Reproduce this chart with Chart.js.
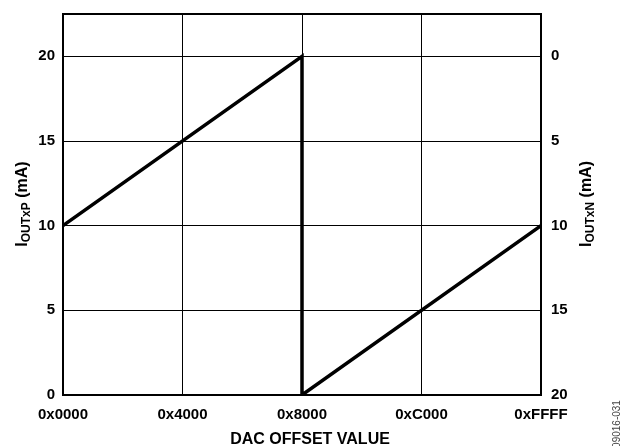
<!DOCTYPE html>
<html>
<head>
<meta charset="utf-8">
<script src="https://cdn.jsdelivr.net/npm/chart.js@4"></script>
<style>
  html, body { margin: 0; padding: 0; background: #fff; }
  #wrap { width: 623px; height: 446px; position: relative; }
</style>
</head>
<body>
<div id="wrap"><canvas id="chart" width="623" height="446"></canvas></div>
<script>
// DAC offset code vs output current
const dacCodes = [0x0000, 0x8000, 0x8000, 0xFFFF];
const ioutP = [10, 20, 0, 10];

const xTickValues = [0x0000, 0x4000, 0x8000, 0xC000, 0xFFFF];
const xTickLabels = ['0x0000', '0x4000', '0x8000', '0xC000', '0xFFFF'];
const leftTicks = [0, 5, 10, 15, 20];
const rightTicks = [0, 5, 10, 15, 20];

const FONT = 'Liberation Sans, Arial, Helvetica, sans-serif';

const points = dacCodes.map((x, i) => ({ x: x, y: ioutP[i] }));

// border around plot + axis titles with subscripts
const decorPlugin = {
  id: 'decor',
  beforeDatasetsDraw(chart) {
    const ctx = chart.ctx, a = chart.chartArea;
    ctx.save();
    ctx.strokeStyle = '#000';
    ctx.lineWidth = 2;
    ctx.strokeRect(a.left, a.top, a.right - a.left, a.bottom - a.top);
    ctx.restore();
  },
  afterDraw(chart) {
    const ctx = chart.ctx;
    ctx.save();
    ctx.fillStyle = '#000';
    ctx.textBaseline = 'middle';
    ctx.textAlign = 'center';
    ctx.font = 'bold 16px ' + FONT;
    ctx.fillText('DAC OFFSET VALUE', 310, 440);

    function subTitle(cx, cy, sub) {
      ctx.save();
      ctx.translate(cx, cy);
      ctx.rotate(-Math.PI / 2);
      ctx.textAlign = 'left';
      ctx.textBaseline = 'alphabetic';
      const big = 'bold 16px ' + FONT, small = 'bold 12px ' + FONT;
      ctx.font = big; const w1 = ctx.measureText('I').width;
      const w3 = ctx.measureText(' (mA)').width;
      ctx.font = small; const w2 = ctx.measureText(sub).width;
      let x = -(w1 + w2 + w3) / 2;
      ctx.font = big; ctx.fillText('I', x, 6); x += w1;
      ctx.font = small; ctx.fillText(sub, x, 9); x += w2;
      ctx.font = big; ctx.fillText(' (mA)', x, 6);
      ctx.restore();
    }
    subTitle(21, 204, 'OUTxP');
    subTitle(585, 204, 'OUTxN');

    ctx.save();
    ctx.translate(617, 424);
    ctx.rotate(-Math.PI / 2);
    ctx.font = '10px ' + FONT;
    ctx.fillStyle = '#444';
    ctx.fillText('09016-031', 0, 0);
    ctx.restore();
    ctx.restore();
  }
};

function noPadY(s, w) { s.width = w; s.paddingTop = 0; s.paddingBottom = 0; }

new Chart(document.getElementById('chart'), {
  type: 'scatter',
  data: {
    datasets: [{
      data: points,
      showLine: true,
      borderColor: '#000',
      borderWidth: 3.5,
      pointRadius: 0,
      fill: false,
      tension: 0
    }]
  },
  options: {
    responsive: false,
    animation: false,
    layout: { padding: { top: 14, left: 0, right: 0, bottom: 0 } },
    plugins: { legend: { display: false }, tooltip: { enabled: false } },
    scales: {
      x: {
        type: 'linear',
        min: 0, max: 0xFFFF,
        afterBuildTicks: s => { s.ticks = xTickValues.map(v => ({ value: v })); },
        afterFit: s => { s.height = 51; s.paddingLeft = 0; s.paddingRight = 0; },
        grid: { color: '#000', lineWidth: 1, drawTicks: false },
        border: { display: false },
        ticks: {
          padding: 11,
          autoSkip: false,
          maxRotation: 0,
          color: '#000',
          font: { family: FONT, size: 15, weight: 'bold' },
          callback: v => xTickLabels[xTickValues.indexOf(v)]
        }
      },
      y: {
        position: 'left',
        min: 0, max: 22.5,
        afterBuildTicks: s => { s.ticks = leftTicks.map(v => ({ value: v })); },
        afterFit: s => noPadY(s, 63),
        grid: { color: '#000', lineWidth: 1, drawTicks: false },
        border: { display: false },
        ticks: {
          padding: 8,
          color: '#000',
          font: { family: FONT, size: 15, weight: 'bold' }
        }
      },
      y2: {
        position: 'right',
        reverse: true,
        min: -2.5, max: 20,
        afterBuildTicks: s => { s.ticks = rightTicks.map(v => ({ value: v })); },
        afterFit: s => noPadY(s, 82),
        grid: { display: false, drawTicks: false },
        border: { display: false },
        ticks: {
          padding: 10,
          color: '#000',
          font: { family: FONT, size: 15, weight: 'bold' }
        }
      }
    }
  },
  plugins: [decorPlugin]
});
</script>
</body>
</html>
